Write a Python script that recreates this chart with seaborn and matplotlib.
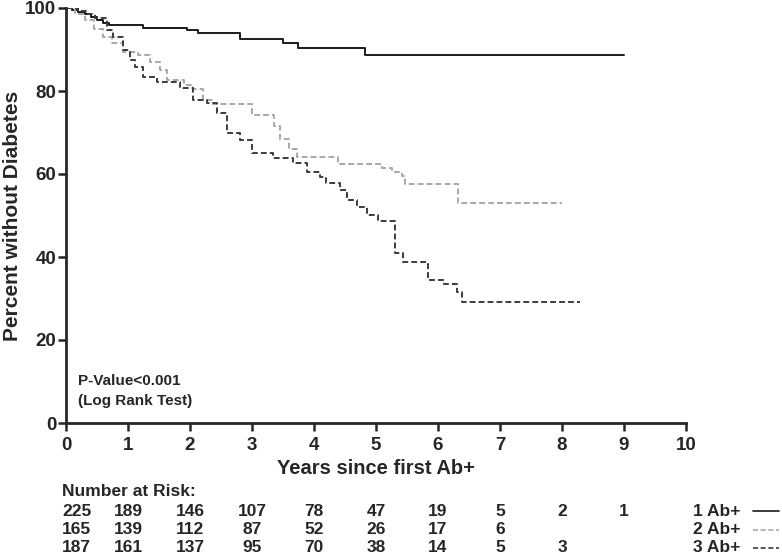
import pandas as pd
import matplotlib
matplotlib.use("Agg")
import matplotlib.pyplot as plt
import matplotlib.transforms as mtransforms
from matplotlib.lines import Line2D
import seaborn as sns

sns.set_style("ticks")
plt.rcParams['font.family'] = ['Liberation Sans', 'DejaVu Sans']
plt.rcParams['font.weight'] = 'bold'

# survival curves: time (years) where the curve steps, and percent after the step
t1 = [0, 0.1, 0.2, 0.3, 0.4, 0.5, 0.6, 0.7, 1.24, 1.95, 2.13, 2.81, 3.5, 3.74, 4.82, 9.0]
s1 = [100, 99.5, 99, 98.5, 97.8, 97, 96.3, 95.8, 95.2, 94.6, 94.0, 92.5, 91.6, 90.4, 88.7, 88.7]

t2 = [0, 0.15, 0.31, 0.45, 0.6, 0.74, 0.92, 1.16, 1.35, 1.52, 1.63, 1.9, 2.05, 2.21, 2.37,
      3.0, 3.35, 3.45, 3.6, 3.72, 4.39, 5.1, 5.25, 5.42, 5.47, 6.33, 8.0]
s2 = [100, 98.5, 97, 95, 93, 91.5, 89.4, 88.7, 87, 85, 82.7, 81.5, 80.5, 77.8, 76.9,
      74.2, 71.5, 68.5, 66, 64.1, 62.4, 61.5, 60.5, 59.5, 57.6, 53, 53]

t3 = [0, 0.2, 0.35, 0.47, 0.66, 0.76, 0.92, 1.03, 1.11, 1.24, 1.47, 1.84, 2.05, 2.27, 2.44,
      2.6, 2.81, 3.0, 3.34, 3.66, 3.89, 4.1, 4.2, 4.42, 4.53, 4.7, 4.85, 5.03, 5.31, 5.44,
      5.84, 6.1, 6.31, 6.39, 8.29]
s3 = [100, 99.3, 98.5, 97.6, 94.7, 93, 89.9, 87.5, 85.8, 83.4, 82.2, 80.7, 77.8, 77.1, 74.7,
      69.9, 68.2, 65, 63.9, 62.7, 60.5, 59.3, 57.8, 56.1, 53.7, 52, 50.1, 48.7, 41, 38.8,
      34.5, 33.5, 31.6, 29.2, 29.2]

groups = ['1 Ab+', '2 Ab+', '3 Ab+']
risk_years = [0, 1, 2, 3, 4, 5, 6, 7, 8, 9]
risk1 = [225, 189, 146, 107, 78, 47, 19, 5, 2, 1]
risk2 = [165, 139, 112, 87, 52, 26, 17, 6, None, None]
risk3 = [187, 161, 137, 95, 70, 38, 14, 5, 3, None]

styles = [dict(color='#1a1a1a', linestyle='-'),
          dict(color='#a8a8a8', linestyle=(0, (3, 1.6))),
          dict(color='#3c3c3c', linestyle=(0, (3, 1.6)))]

W, H = 782, 557
fig = plt.figure(figsize=(W / 100, H / 100), dpi=100)
ax = fig.add_axes([66 / W, 1 - 423 / H, 620 / W, 415 / H])

for t, s, st in zip([t1, t2, t3], [s1, s2, s3], styles):
    df = pd.DataFrame({'t': t, 's': s})
    sns.lineplot(data=df, x='t', y='s', ax=ax, estimator=None, sort=False,
                 drawstyle='steps-post', linewidth=1.4, **st)

ax.set_xlim(0, 10)
ax.set_ylim(0, 100)
ax.set_xticks(range(0, 11))
ax.set_yticks(range(0, 101, 20))
sns.despine(ax=ax)
for sp in ['left', 'bottom']:
    ax.spines[sp].set_linewidth(2)
ax.tick_params(direction='out', length=6, width=1.8, labelsize=13.5)
ax.tick_params(axis='y', pad=1)
ax.tick_params(axis='x', pad=4)

ax.set_xlabel('Years since first Ab+', fontsize=14.5, fontweight='bold')
ax.set_ylabel('Percent without Diabetes', fontsize=15, fontweight='bold')
ax.xaxis.label.set_va('center')
ax.yaxis.label.set_va('center')
ax.xaxis.set_label_coords(0.5, (423 - 468) / 415)
ax.yaxis.set_label_coords((13 - 66) / 620, 0.5)

ax.text(78 / W, 1 - 381 / H, 'P-Value<0.001', transform=fig.transFigure,
        fontsize=11, fontweight='bold', va='center', ha='left')
ax.text(78 / W, 1 - 401 / H, '(Log Rank Test)', transform=fig.transFigure,
        fontsize=11, fontweight='bold', va='center', ha='left')

# number at risk table
blend = mtransforms.blended_transform_factory(ax.transData, fig.transFigure)
fig.text(62 / W, 1 - 492 / H, 'Number at Risk:', fontsize=12.5, fontweight='bold',
         va='center', ha='left')
row_y = [511, 530, 548]
for risk, py, g, st in zip([risk1, risk2, risk3], row_y, groups, styles):
    for yr, n in zip(risk_years, risk):
        if n is None:
            continue
        xpos = 0.17 if yr == 0 else yr
        ax.text(xpos, 1 - py / H, str(n), transform=blend, fontsize=12.5,
                fontweight='bold', va='center', ha='center', clip_on=False)
    fig.text(693 / W, 1 - py / H, g, fontsize=12.5, fontweight='bold',
             va='center', ha='left')
    fig.add_artist(Line2D([753 / W, 779 / W], [1 - py / H, 1 - py / H],
                          transform=fig.transFigure, linewidth=1.2, **st))

fig.savefig('out.png', dpi=100)
